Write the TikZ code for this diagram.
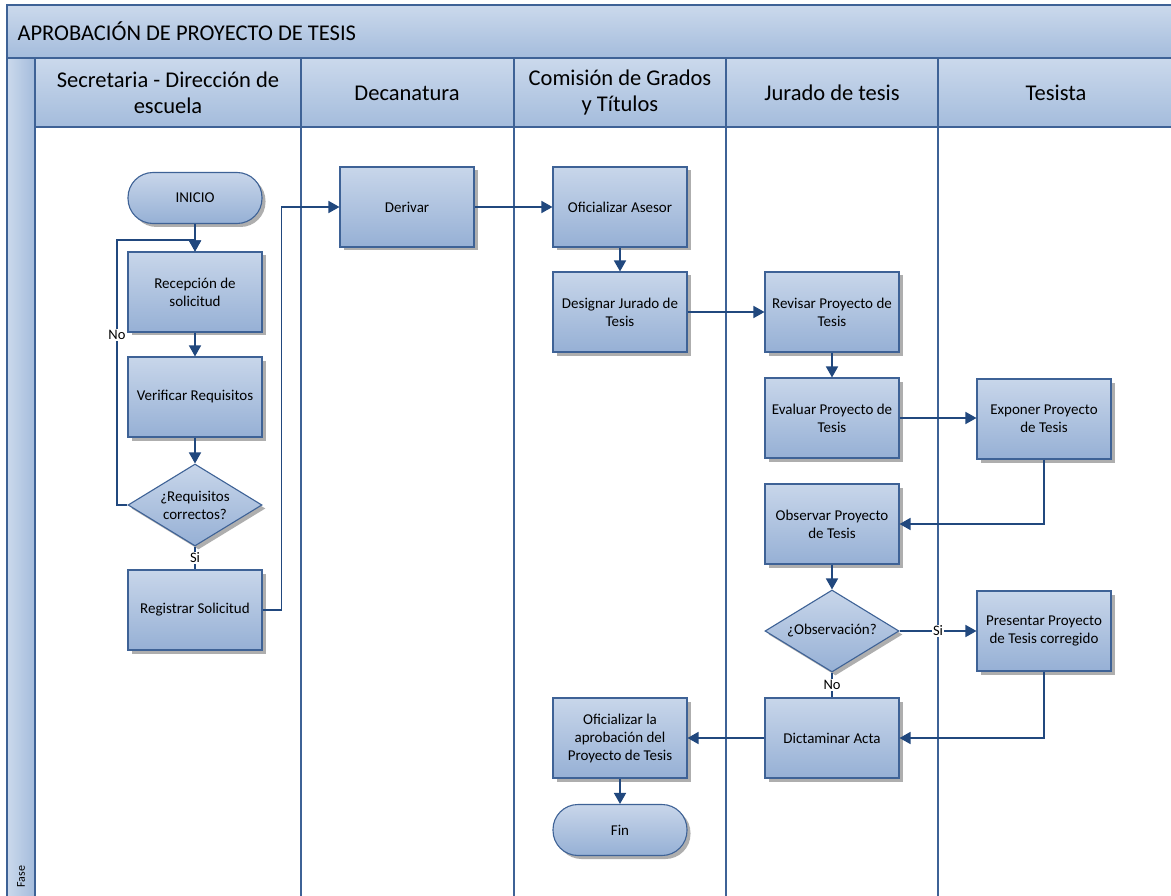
\documentclass[tikz,border=0pt]{standalone}
\usepackage{fontspec}
\setmainfont{Carlito}
\usetikzlibrary{arrows.meta,shapes.geometric,shadows}

\definecolor{lanedraw}{HTML}{3E6296}
\definecolor{linkcol}{HTML}{21487E}
\definecolor{boxtop}{HTML}{C8D6EA}
\definecolor{boxbot}{HTML}{96B0D5}
\definecolor{headtop}{HTML}{CBD9EC}
\definecolor{headbot}{HTML}{A4BCDC}

\begin{document}
\begin{tikzpicture}[x=1pt,y=-1pt,
  boxshadow/.style={drop shadow={shadow xshift=3.5pt,shadow yshift=-3.5pt,fill=black!45,opacity=0.7}},
  boxfont/.style={font=\fontsize{15}{18}\selectfont},
  procbox/.style={draw=lanedraw,line width=1.1pt,top color=boxtop,bottom color=boxbot,
    minimum width=134pt,minimum height=80pt,inner sep=2pt,align=center,boxfont,boxshadow},
  termbox/.style={procbox,minimum height=51pt,rounded corners=25pt},
  decbox/.style={procbox,diamond,minimum width=134pt,minimum height=82pt,inner sep=0pt},
  dectext/.style={align=center,boxfont,inner sep=0pt},
  link/.style={draw=linkcol,line width=1.7pt,-{Triangle[length=11pt,width=12pt]}},
  plainlink/.style={draw=linkcol,line width=1.7pt},
  lbl/.style={fill=white,inner sep=1pt,font=\fontsize{14.5}{16}\selectfont},
  lanehead/.style={align=center,font=\fontsize{22.5}{26}\selectfont},
  laneline/.style={draw=lanedraw,line width=1.2pt}
]
\useasboundingbox (0,0) rectangle (1171,896);
\fill[white] (0,0) rectangle (1171,896);

% pool title band, phase strip and lane header row
\shade[top color=headtop,bottom color=headbot] (7,5) rectangle (1180,58);
\shade[left color=headtop,right color=headbot] (7,58) rectangle (35,900);
\shade[top color=headtop,bottom color=headbot] (35,58) rectangle (1180,127);
\draw[laneline] (1180,5) -- (7,5) -- (7,900);
\draw[laneline] (35,58) -- (35,900);
\draw[laneline] (7,58) -- (1180,58);
\draw[laneline] (35,127) -- (1180,127);
\foreach \lx in {301,514,726,938}
  \draw[laneline] (\lx,58) -- (\lx,900);

\node[anchor=west,font=\fontsize{22.5}{26}\selectfont] (title) at (14,31) {APROBACIÓN DE PROYECTO DE TESIS};
\node[rotate=90,anchor=west,font=\fontsize{12}{14}\selectfont] (fase) at (21,891) {Fase};

\node[lanehead] (h1) at (168,93) {Secretaria - Dirección de\\escuela};
\node[lanehead] (h2) at (407,93) {Decanatura};
\node[lanehead] (h3) at (620,93) {Comisión de Grados\\y Títulos};
\node[lanehead] (h4) at (832,93) {Jurado de tesis};
\node[lanehead] (h5) at (1056,93) {Tesista};

% process steps
\node[termbox] (ini) at (195,198) {INICIO};
\node[procbox] (rec) at (195,292) {Recepción de\\solicitud};
\node[procbox] (ver) at (195,397) {Verificar Requisitos};
\node[decbox]  (req) at (195,505) {};
\node[dectext] (reqt) at (req) {¿Requisitos\\correctos?};
\node[procbox] (reg) at (195,610) {Registrar Solicitud};

\node[procbox] (der) at (407,207) {Derivar};

\node[procbox] (ofa) at (620,207) {Oficializar Asesor};
\node[procbox] (dsj) at (620,312) {Designar Jurado de\\Tesis};
\node[procbox] (ofp) at (620,738) {Oficializar la\\aprobación del\\Proyecto de Tesis};
\node[termbox] (fin) at (620,830) {Fin};

\node[procbox] (rev) at (832,312) {Revisar Proyecto de\\Tesis};
\node[procbox] (eva) at (832,418) {Evaluar Proyecto de\\Tesis};
\node[procbox] (obs) at (832,524) {Observar Proyecto\\de Tesis};
\node[decbox]  (qob) at (832,631) {};
\node[dectext] (qobt) at (qob) {¿Observación?};
\node[procbox] (dic) at (832,738) {Dictaminar Acta};

\node[procbox] (exp) at (1044,419) {Exponer Proyecto\\de Tesis};
\node[procbox] (pre) at (1044,631) {Presentar Proyecto\\de Tesis corregido};

% connectors
\draw[link] (ini) -- (rec);
\draw[link] (rec) -- (ver);
\draw[link] (ver) -- (req);
\coordinate (loop) at (117,240);
\draw[link] (req.west) -| (loop) -| (rec.north);
\node[lbl] (no1) at (117,335) {No};
\draw[plainlink] (req.south) -- (reg.north) node[lbl,midway] (si1) {Si};
\draw[link] (reg.east) -- ++(19,0) |- (der.west);
\draw[link] (der) -- (ofa);
\draw[link] (ofa) -- (dsj);
\draw[link] (dsj.east) -- (rev.west);
\draw[link] (rev) -- (eva);
\draw[link] (eva.east) -- (eva.east -| exp.west);
\draw[link] (exp.south) |- (obs.east);
\draw[link] (obs) -- (qob);
\draw[link] (qob.east) -- (pre.west) node[lbl,midway] (si2) {Si};
\draw[plainlink] (qob.south) -- (dic.north) node[lbl,midway] (no2) {No};
\draw[link] (pre.south) |- (dic.east);
\draw[link] (dic.west) -- (ofp.east);
\draw[link] (ofp) -- (fin);
\end{tikzpicture}
\end{document}
